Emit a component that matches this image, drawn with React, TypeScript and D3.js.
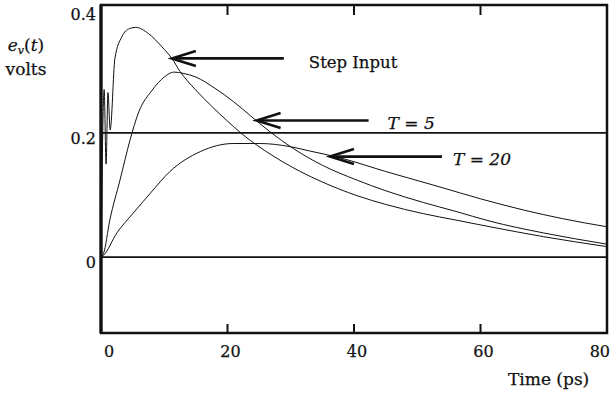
import React, { useEffect, useRef } from "react";
import * as d3 from "d3";

// step input response (ps, volts)
const stepTime = [0, 0.5, 0.8, 1.1, 1.45, 2.2, 3.3, 4.5, 5.5, 7.5, 9.6, 11.2, 12.5, 14.9, 17.5, 19.9, 22, 23.6, 26, 28.5, 31.5, 35, 40.5, 45, 51, 56, 61.5, 70, 80];
const stepVolts = [0, 0.27, 0.15, 0.265, 0.205, 0.32, 0.355, 0.368, 0.37, 0.36, 0.339, 0.32, 0.299, 0.27, 0.243, 0.22, 0.201, 0.188, 0.171, 0.155, 0.138, 0.121, 0.099, 0.085, 0.07, 0.06, 0.049, 0.033, 0.017];

// T = 5
const t5Time = [0, 0.4, 1.4, 3, 4.6, 5.9, 8.1, 10, 11.5, 13, 15, 18, 21, 23.6, 26.7, 30.4, 35, 40.5, 45, 51, 56, 61.5, 70, 80];
const t5Volts = [0, 0.006, 0.06, 0.124, 0.189, 0.232, 0.269, 0.29, 0.298, 0.296, 0.29, 0.272, 0.25, 0.228, 0.202, 0.175, 0.148, 0.124, 0.107, 0.088, 0.074, 0.058, 0.039, 0.021];

// T = 20
const t20Time = [0, 0.4, 2.5, 5.1, 7.8, 10.9, 15.7, 20.9, 25.2, 29.9, 33, 37.8, 45, 53.6, 60, 66.8, 73, 80];
const t20Volts = [0, 0.003, 0.039, 0.071, 0.103, 0.138, 0.17, 0.183, 0.183, 0.178, 0.171, 0.16, 0.138, 0.113, 0.094, 0.076, 0.062, 0.049];

const xTicks = [0, 20, 40, 60, 80];
const yTicks = [0, 0.2, 0.4];

// annotations: arrow tip (t, v), label
const notes = [
  { t: 11.2, v: 0.32, label: "Step Input", italic: false, gap: 25 },
  { t: 24.6, v: 0.22, label: "T = 5", italic: true, gap: 19 },
  { t: 36.2, v: 0.162, label: "T = 20", italic: true, gap: 11 },
];

const W = 613;
const H = 394;

export default function App() {
  const svgRef = useRef<SVGSVGElement>(null);

  useEffect(() => {
    if (!svgRef.current) return;
    const svg = d3.select(svgRef.current);
    svg.selectAll("*").remove();

    const ink = "#111";
    const arrowLen = 112;

    const x = d3.scaleLinear().domain([0, 80]).range([101, 607]);
    const y = d3.scaleLinear().domain([-0.122, 0.406]).range([333, 5]);

    const [x0, x1] = x.range();
    const [yb, yt] = y.range();

    // reference lines at 0 and 0.2
    [0, 0.2].forEach((v) => {
      svg
        .append("line")
        .attr("x1", x0)
        .attr("x2", x1)
        .attr("y1", y(v))
        .attr("y2", y(v))
        .attr("stroke", ink)
        .attr("stroke-width", 1.8);
    });

    // curves
    const line = d3
      .line<[number, number]>()
      .x((d) => x(d[0]))
      .y((d) => y(d[1]))
      .curve(d3.curveMonotoneX);

    const series = [
      d3.zip(stepTime, stepVolts),
      d3.zip(t5Time, t5Volts),
      d3.zip(t20Time, t20Volts),
    ] as [number, number][][];

    series.forEach((s) => {
      svg
        .append("path")
        .datum(s)
        .attr("fill", "none")
        .attr("stroke", ink)
        .attr("stroke-width", 1)
        .attr("d", line);
    });

    // frame
    svg
      .append("rect")
      .attr("x", x0)
      .attr("y", yt)
      .attr("width", x1 - x0)
      .attr("height", yb - yt)
      .attr("fill", "none")
      .attr("stroke", ink)
      .attr("stroke-width", 2.5);
    svg
      .append("line")
      .attr("x1", x0)
      .attr("x2", x0)
      .attr("y1", yt)
      .attr("y2", yb)
      .attr("stroke", ink)
      .attr("stroke-width", 3.2);

    // inner ticks top and bottom
    xTicks.slice(1, -1).forEach((t) => {
      svg
        .append("line")
        .attr("x1", x(t))
        .attr("x2", x(t))
        .attr("y1", yt)
        .attr("y2", yt + 10)
        .attr("stroke", ink)
        .attr("stroke-width", 2);
      svg
        .append("line")
        .attr("x1", x(t))
        .attr("x2", x(t))
        .attr("y1", yb)
        .attr("y2", yb - 9)
        .attr("stroke", ink)
        .attr("stroke-width", 2);
    });

    const text = () =>
      svg.append("text").attr("fill", ink).attr("stroke", ink).attr("stroke-width", 0.25);

    // x tick labels
    xTicks.forEach((t, i) => {
      const last = i === xTicks.length - 1;
      text()
        .attr("x", x(t) + 3)
        .attr("y", 357)
        .attr("text-anchor", i === 0 ? "start" : last ? "end" : "middle")
        .style("font-size", "16px")
        .text(String(t));
    });

    // y tick labels
    yTicks.forEach((v) => {
      text()
        .attr("x", 96)
        .attr("y", y(v) + 11)
        .attr("text-anchor", "end")
        .style("font-size", "16px")
        .text(v === 0 ? "0" : v.toFixed(1));
    });

    // axis titles
    const yl = text()
      .attr("x", 26)
      .attr("y", 51)
      .attr("text-anchor", "middle")
      .style("font-size", "17px");
    yl.append("tspan").style("font-style", "italic").text("e");
    yl.append("tspan").style("font-style", "italic").style("font-size", "11px").attr("dy", 3).text("v");
    yl.append("tspan").attr("dy", -3).text("(");
    yl.append("tspan").style("font-style", "italic").text("t");
    yl.append("tspan").text(")");

    text()
      .attr("x", 26)
      .attr("y", 75)
      .attr("text-anchor", "middle")
      .style("font-size", "17px")
      .text("volts");

    text()
      .attr("x", 508)
      .attr("y", 385)
      .style("font-size", "17px")
      .text("Time (ps)");

    // arrows + labels
    notes.forEach((n) => {
      const tx = x(n.t);
      const ty = y(n.v);
      const g = svg.append("g").attr("stroke", ink).attr("fill", "none").attr("stroke-width", 2.6);
      g.append("line").attr("x1", tx + 1).attr("x2", tx + arrowLen).attr("y1", ty).attr("y2", ty);
      g.append("path").attr(
        "d",
        `M${tx + 24},${ty - 7.5} L${tx},${ty} L${tx + 24},${ty + 7.5}`
      );
      text()
        .attr("x", tx + arrowLen + n.gap)
        .attr("y", ty + (n.italic ? 8 : 10))
        .style("font-size", n.italic ? "17px" : "16.5px")
        .style("font-style", n.italic ? "italic" : "normal")
        .text(n.label);
    });
  }, []);

  return (
    <svg
      ref={svgRef}
      width={W}
      height={H}
      style={{
        position: "absolute",
        left: 0,
        top: 0,
        background: "#fff",
        fontFamily: '"DejaVu Serif", "Liberation Serif", serif',
      }}
    ></svg>
  );
}
